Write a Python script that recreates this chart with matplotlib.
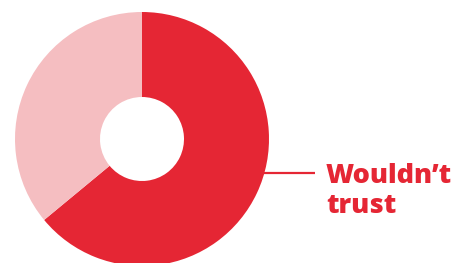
import matplotlib
matplotlib.use("Agg")
import matplotlib.pyplot as plt

# share of respondents
labels = ["Wouldn’t trust", "Other"]
values = [64, 36]
colors = ["#E52634", "#F5BEC1"]

W, H = 461, 263
fig = plt.figure(figsize=(W / 100, H / 100), dpi=100)
ax = fig.add_axes([0, 0, 1, 1])

cx, cy, r = 142, H - 139, 127
ax.pie(values, colors=colors, startangle=90, counterclock=False,
       center=(cx, cy), radius=r,
       wedgeprops=dict(width=r - 42, linewidth=0))

ax.set_xlim(0, W)
ax.set_ylim(0, H)
ax.set_aspect("equal")
ax.axis("off")

# leader line and label
ax.plot([264, 315], [H - 173, H - 173], color=colors[0], lw=1.6,
        solid_capstyle="butt")
for txt, yb in [("Wouldn’t", 183), ("trust", 213)]:
    ax.text(326, H - yb, txt, color=colors[0], fontsize=19.5,
            fontfamily="Open Sans", fontweight="heavy",
            va="baseline", ha="left")

fig.savefig("out.png", dpi=100)
